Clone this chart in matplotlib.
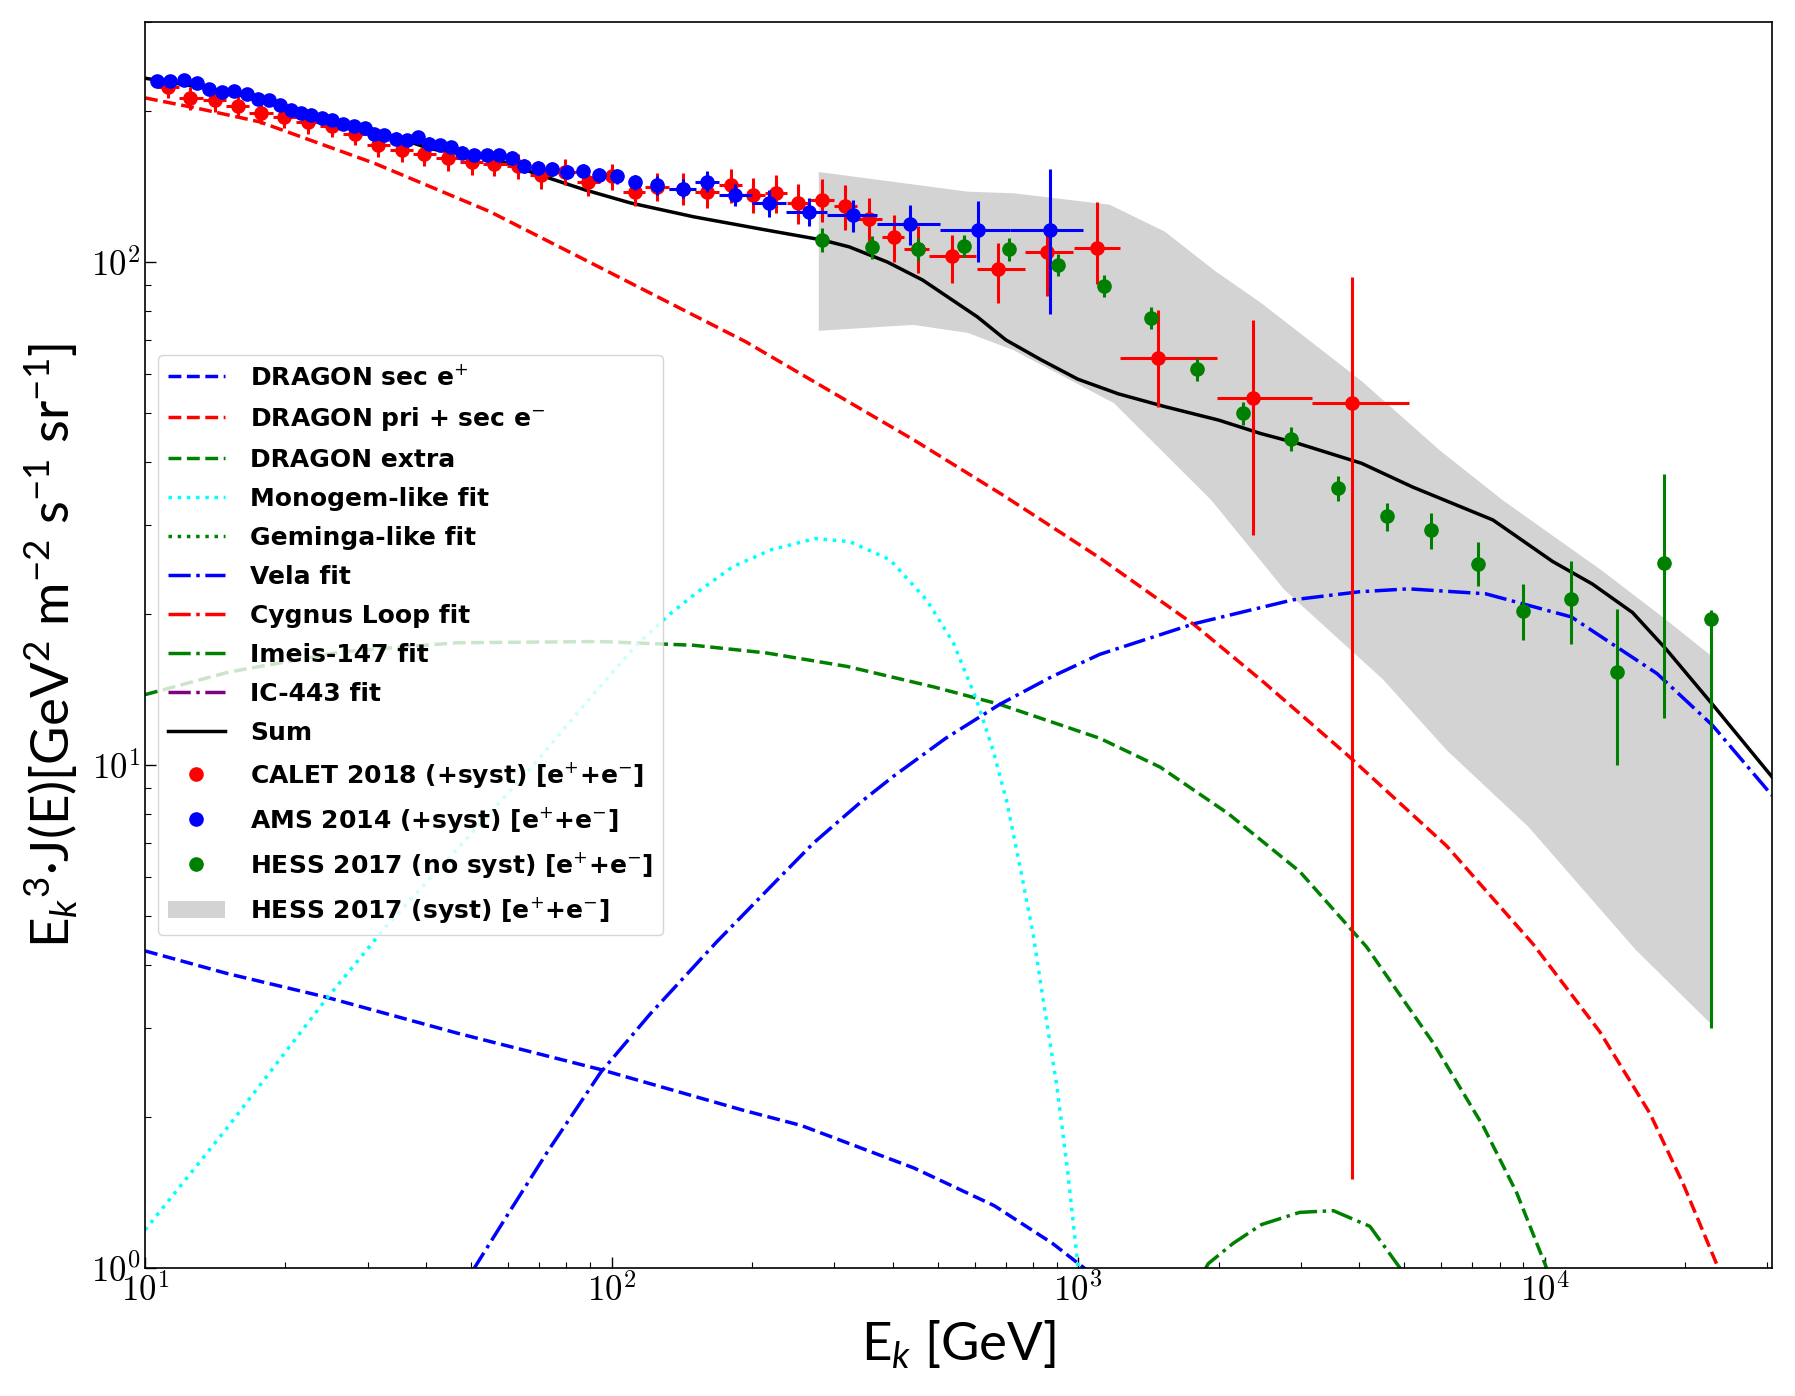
import numpy as np
import matplotlib
matplotlib.use('Agg')
import matplotlib.pyplot as plt
from matplotlib.lines import Line2D
from matplotlib.patches import Patch

plt.rcParams['mathtext.fontset'] = 'cm'
plt.rcParams['mathtext.rm'] = 'Lato'
plt.rcParams['mathtext.it'] = 'Lato:italic'
plt.rcParams['mathtext.bf'] = 'Lato:bold'

#------------------ model curves (E in GeV, E^3 J(E))

sec_E = [10, 15, 24.3, 46.7, 94.8, 191, 255, 445, 661, 880, 1030, 1300]
sec_F = [4.27, 3.85, 3.46, 2.93, 2.48, 2.06, 1.92, 1.58, 1.33, 1.12, 1.0, 0.78]

pri_E = [10, 13, 17.6, 31.1, 54.8, 96.8, 194, 446, 690, 1113, 1774, 2500, 3762, 6166, 9450, 13120, 16800, 19800, 23550, 26000]
pri_F = [212, 202, 190, 157, 126, 96.4, 69.4, 44.2, 34.4, 25.8, 19.0, 14.6, 10.5, 6.9, 4.4, 2.95, 2.03, 1.47, 1.0, 0.8]

extra_E = [10, 15.1, 26.5, 46.7, 94.4, 150, 215, 320, 490, 679, 1113, 1500, 2099, 2985, 4150, 5770, 7390, 8710, 10090, 11000]
extra_F = [13.8, 15.3, 16.8, 17.5, 17.6, 17.3, 16.7, 15.7, 14.3, 13.2, 11.3, 9.9, 8.0, 6.14, 4.35, 2.80, 1.91, 1.41, 1.0, 0.8]

monogem_E = [10, 15, 24.3, 33, 50, 68, 90, 111, 132, 152, 182, 220, 273, 324, 395, 473, 540,
             605, 657, 702, 750, 801, 842, 900, 950, 1000, 1020]
monogem_F = [1.19, 1.9, 3.4, 4.8, 7.3, 10.0, 13.6, 17.0, 19.8, 22.0, 24.8, 26.8, 28.2, 27.8, 25.6, 21.3, 17.5,
             13.5, 10.7, 8.5, 6.3, 4.6, 3.4, 2.3, 1.55, 1.0, 0.8]

geminga_E = []
geminga_F = []

vela_E = [45, 50.8, 60.3, 72.8, 94.8, 121, 168, 220, 271, 340, 402, 520, 679, 880, 1113, 1774, 2884, 4000, 5105,
          7470, 11400, 17400, 22870, 30700]
vela_F = [0.86, 1.0, 1.29, 1.70, 2.45, 3.2, 4.45, 5.75, 7.0, 8.4, 9.5, 11.3, 13.2, 15.0, 16.6, 19.1, 21.3, 22.1, 22.4,
          21.9, 19.7, 15.2, 12.0, 8.7]

cygnus_E = []
cygnus_F = []

imeis_E = [1700, 1900, 2150, 2472, 2985, 3523, 4220, 4895, 5400]
imeis_F = [0.85, 1.02, 1.12, 1.22, 1.29, 1.30, 1.21, 1.0, 0.88]

ic443_E = []
ic443_F = []

sum_E = [10, 15, 20, 30, 40.8, 56.5, 70, 88, 110, 150, 212, 283, 323, 390, 464, 608, 700, 833, 998,
         1219, 1532, 2000, 2463, 2980, 4049, 5210, 7745, 10390, 12650, 15420, 18200, 22880, 30700]
sum_F = [232, 218, 203, 185, 168, 160, 149, 139, 131, 123, 116, 110.6, 107.2, 100, 92.1, 77.8, 70, 63.9, 58.5,
         54.7, 51.6, 48.5, 45.6, 43.5, 39.8, 35.7, 30.7, 25.4, 22.9, 20.1, 17.0, 13.2, 9.47]

#------------------ CALET 2018

calet_E = [11.2, 12.5, 14.1, 15.8, 17.7, 19.9, 22.4, 25.1, 28.2, 31.6,
           35.6, 39.7, 44.5, 50.2, 56.1, 63.1, 70.7, 79.4, 89.1, 100,
           112, 125, 142, 160, 180, 201, 225, 251, 282, 316,
           356, 402, 453, 536, 672, 856, 1096, 1482, 2368, 3872]
calet_F = [223, 212, 210, 204, 198, 194.5, 190, 186, 180, 171,
           167, 164, 161, 158, 157, 155, 149, 151, 144.5, 148,
           138, 141, 140, 138, 142, 136, 137, 131, 133, 129,
           122, 112, 106, 103, 97, 104.6, 106.5, 64.4, 53.6, 52.5]
calet_Elo = [10.6, 11.8, 13.3, 14.9, 16.7, 18.8, 21.1, 23.7, 26.6, 29.9,
             33.5, 37.6, 42.0, 47.3, 53.1, 59.6, 66.8, 75.0, 84.1, 94.4,
             106, 118, 133, 151, 170, 190, 213, 238, 266, 299,
             336, 380, 424, 480, 608, 770, 980, 1230, 1980, 3170]
calet_Ehi = [11.8, 13.3, 14.9, 16.7, 18.8, 21.1, 23.7, 26.6, 29.9, 33.5,
             37.6, 42.0, 47.3, 53.1, 59.6, 66.8, 75.0, 84.1, 94.4, 106,
             118, 133, 151, 170, 190, 213, 238, 266, 299, 336,
             380, 424, 480, 605, 770, 973, 1228, 1980, 3170, 5120]
calet_err_lo = [11, 11, 11, 10, 10, 10, 10, 9, 9, 9,
                9, 9, 9, 9, 9, 9, 9, 9, 9, 9,
                9, 9, 10, 10, 11, 11, 12, 12, 13, 13,
                12, 12, 11, 12, 14, 19, 16, 13, 25, 51]
calet_err_hi = [11, 11, 11, 10, 10, 10, 10, 9, 9, 9,
                9, 9, 9, 9, 9, 9, 9, 9, 9, 9,
                9, 9, 10, 10, 11, 11, 12, 12, 13, 13,
                12, 12, 12, 10, 12, 14, 25, 16, 23, 41]

#------------------ AMS 2014

ams_E = [10.6, 11.3, 12.1, 12.9, 13.7, 14.6, 15.5, 16.5, 17.5, 18.4,
         19.5, 20.6, 21.6, 22.7, 24.0, 25.2, 26.5, 28.0, 29.6, 31.0,
         32.6, 34.5, 36.5, 38.4, 40.6, 42.8, 45.3, 47.7, 50.7, 54.0,
         57.4, 61.2, 65.0, 69.6, 74.7, 80.3, 86.7, 94.2, 102.8, 112,
         125, 142, 160, 184, 217, 265, 329, 436, 609, 870]
ams_F = [229, 229, 230, 227, 221, 218, 219, 216, 211, 210,
         205, 201, 198, 196, 193, 192, 188, 186, 185, 180,
         179, 176, 175, 177, 172, 171, 169, 165, 163, 163,
         163, 161, 155, 154, 153, 151, 152, 149, 148, 144,
         142, 140, 144.5, 136, 131, 126, 124, 119, 116, 116]
ams_err = [5, 5, 5, 5, 5, 5, 5, 5, 5, 5,
           5, 5, 5, 5, 5, 5, 5, 5, 5, 5,
           5, 5, 5, 5, 5, 5, 5, 5, 5, 5,
           5, 5, 5, 5, 5, 5, 5, 5, 5, 5,
           6, 6, 7, 7, 8, 8, 9, 11, 16, 37]
ams_dE_lo = [0]*41 + [9, 9, 14, 17, 28, 39, 66, 104, 156]
ams_dE_hi = [0]*41 + [10, 10, 16, 20, 25, 41, 69, 105, 155]

#------------------ HESS 2017

hess_E = [282, 361, 453, 570, 710, 905, 1135, 1435, 1800, 2260,
          2860, 3600, 4590, 5700, 7200, 9000, 11400, 14300, 18000, 22700]
hess_F = [110.6, 107, 106, 107.6, 106, 98.6, 89.7, 77.5, 61.3, 50.1,
          44.5, 35.5, 31.2, 29.3, 25.1, 20.2, 21.4, 15.3, 25.2, 19.5]
hess_err_lo = [6, 5.5, 5.5, 5.5, 5.5, 5, 4.5, 4, 3.2, 2.6,
               2.4, 2, 2, 2.4, 2.4, 2.5, 4.0, 5.3, 12.8, 16.5]
hess_err_hi = [6, 5.5, 5.5, 5.5, 5.5, 5, 4.5, 4, 3.2, 2.6,
               2.4, 2, 2, 2.4, 2.6, 2.7, 4.1, 5.1, 12.7, 0.8]

band_up_E = [278, 580, 727, 1168, 1532, 1965, 2463, 4049, 5943, 8130, 13300, 18000, 22900]
band_up_F = [151, 138, 137, 130, 115, 96, 83, 58, 42.3, 33.6, 24.3, 19.6, 16.4]
band_lo_E = [278, 443, 580, 727, 1194, 1930, 2767, 4500, 6166, 9220, 15670, 22600]
band_lo_F = [73, 75, 72.3, 66.8, 52.4, 33.6, 22.3, 14.8, 10.7, 7.54, 4.29, 3.07]

#------------------ plot

fig = plt.figure(figsize=(17.95, 13.96), dpi=100)
ax = fig.add_axes([0.0808, 0.0917, 0.9064, 0.8925])

ax.fill(band_up_E + band_lo_E[::-1], band_up_F + band_lo_F[::-1], color='lightgray', lw=0, zorder=0)

lw = 2.5
ax.plot(sec_E, sec_F, '--', color='blue', lw=lw)
ax.plot(pri_E, pri_F, '--', color='red', lw=lw)
ax.plot(extra_E, extra_F, '--', color='green', lw=lw)
ax.plot(monogem_E, monogem_F, ':', color='cyan', lw=lw)
ax.plot(geminga_E, geminga_F, ':', color='green', lw=lw)
ax.plot(vela_E, vela_F, '-.', color='blue', lw=lw)
ax.plot(cygnus_E, cygnus_F, '-.', color='red', lw=lw)
ax.plot(imeis_E, imeis_F, '-.', color='green', lw=lw)
ax.plot(ic443_E, ic443_F, '-.', color='purple', lw=lw)
ax.plot(sum_E, sum_F, '-', color='black', lw=lw)

cE = np.array(calet_E)
ax.errorbar(cE, calet_F, yerr=[calet_err_lo, calet_err_hi],
            xerr=[cE - np.array(calet_Elo), np.array(calet_Ehi) - cE],
            fmt='o', color='red', ms=9.5, elinewidth=2.2, capsize=0, zorder=3)
ax.errorbar(ams_E, ams_F, yerr=ams_err, xerr=[ams_dE_lo, ams_dE_hi],
            fmt='o', color='blue', ms=9.5, elinewidth=2.2, capsize=0, zorder=4)
ax.errorbar(hess_E, hess_F, yerr=[hess_err_lo, hess_err_hi],
            fmt='o', color='green', ms=9.5, elinewidth=2.2, capsize=0, zorder=5)

ax.set_xscale('log')
ax.set_yscale('log')
ax.set_xlim(10, 3.07e4)
ax.set_ylim(1, 300)

ax.tick_params(axis='both', which='major', direction='in', length=8, width=1,
               labelsize=25, labelfontfamily='cmr10')
ax.tick_params(axis='both', which='minor', direction='in', length=4, width=0.8)
for s in ax.spines.values():
    s.set_linewidth(1.2)

ax.set_xlabel('E$_k$ [GeV]', fontsize=38, family='Lato', math_fontfamily='custom', labelpad=8)
ax.set_ylabel('E$_k$$^3$·J(E)[GeV$^2$ m$^{-2}$ s$^{-1}$ sr$^{-1}$]', fontsize=38,
              family='Lato', math_fontfamily='custom', labelpad=8)

ep = 'e$^{+}$+e$^{-}$'
handles = [
    Line2D([], [], ls='--', color='blue', lw=lw),
    Line2D([], [], ls='--', color='red', lw=lw),
    Line2D([], [], ls='--', color='green', lw=lw),
    Line2D([], [], ls=':', color='cyan', lw=lw),
    Line2D([], [], ls=':', color='green', lw=lw),
    Line2D([], [], ls='-.', color='blue', lw=lw),
    Line2D([], [], ls='-.', color='red', lw=lw),
    Line2D([], [], ls='-.', color='green', lw=lw),
    Line2D([], [], ls='-.', color='purple', lw=lw),
    Line2D([], [], ls='-', color='black', lw=lw),
    Line2D([], [], ls='none', marker='o', color='red', ms=9.5),
    Line2D([], [], ls='none', marker='o', color='blue', ms=9.5),
    Line2D([], [], ls='none', marker='o', color='green', ms=9.5),
    Patch(facecolor='lightgray', edgecolor='none'),
]
labels = [
    'DRAGON sec e$^{+}$',
    'DRAGON pri + sec e$^{-}$',
    'DRAGON extra',
    'Monogem-like fit',
    'Geminga-like fit',
    'Vela fit',
    'Cygnus Loop fit',
    'Imeis-147 fit',
    'IC-443 fit',
    'Sum',
    'CALET 2018 (+syst) [' + ep + ']',
    'AMS 2014 (+syst) [' + ep + ']',
    'HESS 2017 (no syst) [' + ep + ']',
    'HESS 2017 (syst) [' + ep + ']',
]
ax.legend(handles, labels, loc='center left', bbox_to_anchor=(0.0, 0.5),
          prop={'family': 'DejaVu Sans', 'weight': 'bold', 'size': 18, 'math_fontfamily': 'dejavusans'},
          handlelength=2.3, handletextpad=1.0, labelspacing=0.6)

plt.savefig('out.png', dpi=100)
